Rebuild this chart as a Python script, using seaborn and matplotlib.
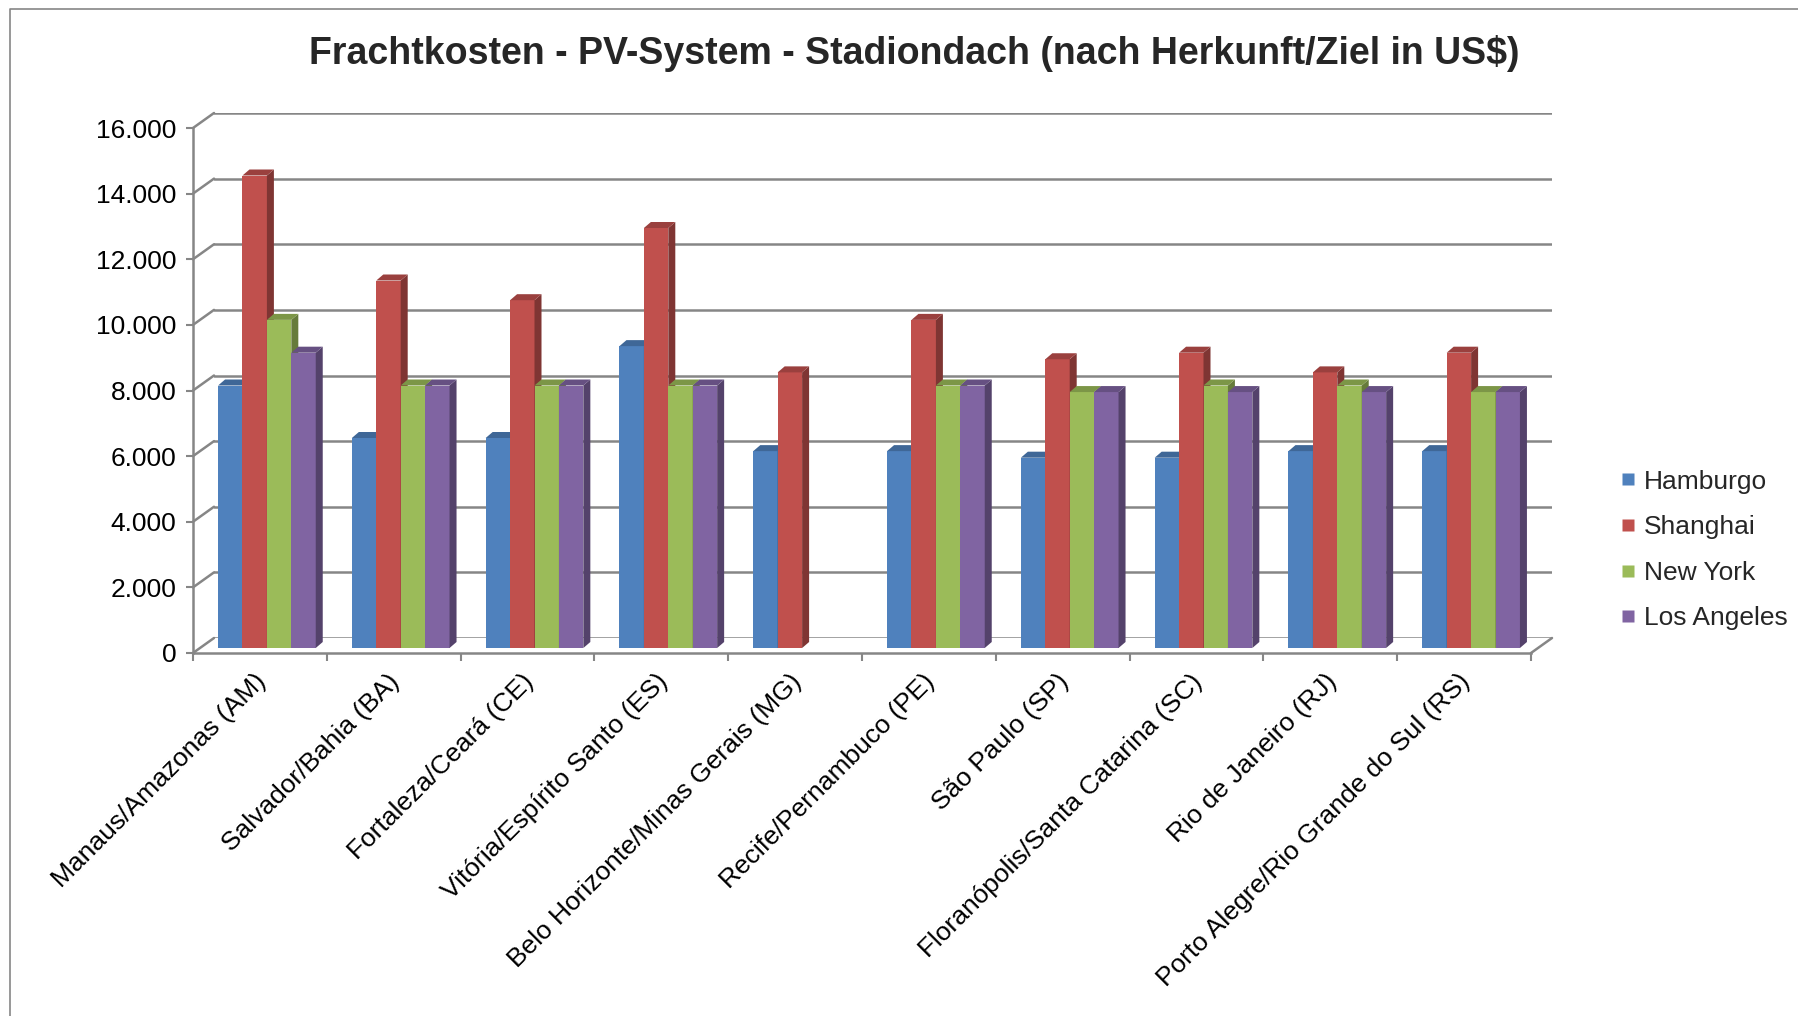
import numpy as np
import pandas as pd
import matplotlib
matplotlib.use("Agg")
import matplotlib.pyplot as plt
import seaborn as sns
from matplotlib.patches import Polygon, ConnectionPatch
from matplotlib.lines import Line2D
from matplotlib.ticker import FuncFormatter, MultipleLocator
from matplotlib.transforms import ScaledTranslation
import matplotlib.colors as mcolors


regions = ['Manaus/Amazonas (AM)', 'Salvador/Bahia (BA)', 'Fortaleza/Ceará (CE)',
           'Vitória/Espírito Santo (ES)', 'Belo Horizonte/Minas Gerais (MG)',
           'Recife/Pernambuco (PE)', 'São Paulo (SP)', 'Floranópolis/Santa Catarina (SC)',
           'Rio de Janeiro (RJ)', 'Porto Alegre/Rio Grande do Sul (RS)']
origins = ['Hamburgo', 'Shanghai', 'New York', 'Los Angeles']

hamburgo = [8000, 6400, 6400, 9200, 6000, 6000, 5800, 5800, 6000, 6000]
shanghai = [14400, 11200, 10600, 12800, 8400, 10000, 8800, 9000, 8400, 9000]
new_york = [10000, 8000, 8000, 8000, np.nan, 8000, 7800, 8000, 8000, 7800]
los_angeles = [9000, 8000, 8000, 8000, np.nan, 8000, 7800, 7800, 7800, 7800]

colors = ['#4F81BD', '#C0504D', '#9BBB59', '#8064A2']
grid_color = '#868686'

df = pd.DataFrame({'Region': regions * 4,
                   'Herkunft': np.repeat(origins, len(regions)),
                   'Kosten': hamburgo + shanghai + new_york + los_angeles})

sns.set_theme(style='white')
plt.rcParams['font.family'] = ['Liberation Sans', 'DejaVu Sans']

W, H = 1798, 1016
fig = plt.figure(figsize=(W / 100, H / 100), dpi=100)

# front plane (axis lines + labels), back wall (gridlines), bar plane in between
left, bottom, width, height = 193 / W, 1 - 653 / H, 1338 / W, 525 / H
ax_back = fig.add_axes([left + 21 / W, bottom + 15 / H, width, height], zorder=0)
ax = fig.add_axes([left, bottom, width, height], zorder=1)
ax_bar = fig.add_axes([left + 7 / W, bottom + 5 / H, width, height], zorder=2)

for a in (ax_back, ax, ax_bar):
    a.set_xlim(-0.5, len(regions) - 0.5)
    a.set_ylim(0, 16000)
    a.patch.set_alpha(0)

# back wall gridlines
ax_back.yaxis.set_major_locator(MultipleLocator(2000))
ax_back.grid(axis='y', color=grid_color, linewidth=1.8)
ax_back.set_xticks([])
ax_back.tick_params(left=False, labelleft=False)
for s in ax_back.spines.values():
    s.set_visible(False)

# front axis
for s in ['top', 'right']:
    ax.spines[s].set_visible(False)
for s in ['left', 'bottom']:
    ax.spines[s].set_color(grid_color)
    ax.spines[s].set_linewidth(1.8)
ax.yaxis.set_major_locator(MultipleLocator(2000))
ax.yaxis.set_major_formatter(FuncFormatter(lambda v, p: f"{int(v):,}".replace(',', '.')))
ax.tick_params(axis='y', left=True, length=5, width=1.5, color=grid_color,
               labelsize=19, pad=7, labelcolor='black')
ax.set_xticks(range(len(regions)))
ax.set_xticklabels(regions, rotation=45, ha='right', rotation_mode='anchor')
ax.set_xticks(np.arange(-0.5, len(regions)), minor=True)
ax.tick_params(axis='x', which='major', length=0, labelsize=19, pad=12, labelcolor='black')
ax.tick_params(axis='x', which='minor', bottom=True, length=6, width=1.5, color=grid_color)
ax.grid(False)
shift = ScaledTranslation(-0.06, 0, fig.dpi_scale_trans)
for lab in ax.get_xticklabels():
    lab.set_transform(lab.get_transform() + shift)

# diagonal connectors between front axis and back wall
for y in range(0, 16001, 2000):
    fig.add_artist(ConnectionPatch(xyA=(-0.5, y), coordsA=ax.transData,
                                   xyB=(-0.5, y), coordsB=ax_back.transData,
                                   color=grid_color, linewidth=1.8))
fig.add_artist(ConnectionPatch(xyA=(len(regions) - 0.5, 0), coordsA=ax.transData,
                               xyB=(len(regions) - 0.5, 0), coordsB=ax_back.transData,
                               color=grid_color, linewidth=1.8))

# bars
sns.barplot(data=df, x='Region', y='Kosten', hue='Herkunft', order=regions,
            hue_order=origins, palette=colors, width=0.73, gap=0, saturation=1,
            errorbar=None, edgecolor='none', linewidth=0, legend=False, ax=ax_bar)
ax_bar.set_xlim(-0.5, len(regions) - 0.5)
ax_bar.set_ylim(0, 16000)
ax_bar.axis('off')

# fake 3D depth for each bar
bb = ax_bar.get_position()
dx = 7 / (bb.width * W) * len(regions)
dy = 6 / (bb.height * H) * 16000
bars = [p for p in ax_bar.patches if p.get_height() > 0]
bars.sort(key=lambda p: p.get_x())
for i, p in enumerate(bars):
    x0, h = p.get_x(), p.get_height()
    x1 = x0 + p.get_width()
    rgb = np.array(mcolors.to_rgb(p.get_facecolor()))
    p.set_zorder(2 + i)
    side = Polygon([(x1, 0), (x1 + dx, dy), (x1 + dx, h + dy), (x1, h)],
                   closed=True, facecolor=rgb * 0.66, edgecolor='none',
                   zorder=2 + i + 0.5, clip_on=False)
    top = Polygon([(x0, h), (x1, h), (x1 + dx, h + dy), (x0 + dx, h + dy)],
                  closed=True, facecolor=rgb * 0.8, edgecolor='none',
                  zorder=2 + i + 0.5, clip_on=False)
    ax_bar.add_patch(side)
    ax_bar.add_patch(top)

# legend
handles = [Line2D([], [], marker='s', linestyle='none', markersize=9,
                  markerfacecolor=c, markeredgecolor='none') for c in colors]
fig.legend(handles, origins, loc='center left', bbox_to_anchor=(1620 / W, 1 - 550 / H),
           frameon=False, fontsize=19, handlelength=0.6, handletextpad=0.3,
           labelspacing=0.82, borderpad=0, borderaxespad=0)

fig.text(914 / W, 1 - 54 / H, 'Frachtkosten - PV-System - Stadiondach (nach Herkunft/Ziel in US$)',
         ha='center', va='center', fontsize=27, fontweight='bold')

# chart area border (left and top edge visible)
fig.add_artist(Line2D([10 / W, 10 / W, 1], [0, 1 - 9 / H, 1 - 9 / H],
                      color=grid_color, linewidth=1.2))

fig.savefig('out.png', dpi=100, facecolor='white')
